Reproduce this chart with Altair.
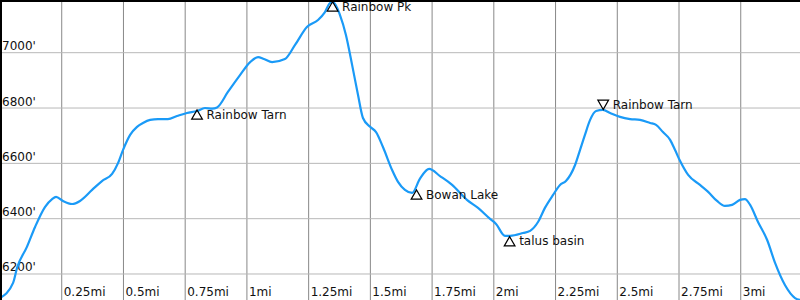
import altair as alt
import pandas as pd

# Trail profile (distance in miles, elevation in feet)
dist_mi = [0.000, 0.053, 0.069, 0.109, 0.142, 0.182, 0.211, 0.227, 0.255, 0.292,
           0.324, 0.373, 0.413, 0.454, 0.478, 0.498, 0.527, 0.555, 0.579, 0.608,
           0.640, 0.680, 0.717, 0.757, 0.798, 0.830, 0.859, 0.879, 0.923, 0.972,
           1.013, 1.045, 1.069, 1.102, 1.154, 1.195, 1.243, 1.288, 1.316, 1.337,
           1.349, 1.377, 1.401, 1.426, 1.450, 1.470, 1.499, 1.523, 1.551, 1.588,
           1.612, 1.640, 1.669, 1.701, 1.738, 1.782, 1.831, 1.891, 1.936,
           1.985, 2.009, 2.045, 2.066, 2.118, 2.147, 2.179, 2.207, 2.240, 2.268,
           2.292, 2.329, 2.349, 2.369, 2.390, 2.414, 2.442, 2.471, 2.511, 2.552,
           2.592, 2.633, 2.657, 2.685, 2.714, 2.734, 2.754, 2.787, 2.835, 2.868,
           2.904, 2.936, 2.965, 2.997, 3.017, 3.038, 3.070, 3.107, 3.139, 3.179,
           3.220, 3.240]
elev_ft = [6113, 6168, 6222, 6298, 6370, 6442, 6471, 6479, 6464, 6453,
           6464, 6504, 6536, 6562, 6601, 6648, 6703, 6732, 6746, 6757,
           6760, 6760, 6771, 6782, 6789, 6800, 6798, 6802, 6858, 6919,
           6966, 6984, 6977, 6966, 6977, 7028, 7093, 7118, 7147, 7180,
           7183, 7136, 7064, 6956, 6847, 6764, 6732, 6713, 6659, 6576,
           6533, 6504, 6493, 6545, 6580, 6554, 6522, 6468, 6439,
           6399, 6381, 6338, 6338, 6348, 6356, 6388, 6439, 6486, 6522,
           6536, 6594, 6648, 6703, 6757, 6789, 6793, 6782, 6768, 6760,
           6757, 6746, 6739, 6713, 6685, 6648, 6609, 6558, 6522, 6497,
           6464, 6446, 6450, 6468, 6471, 6450, 6388, 6323, 6240, 6160,
           6113, 6106]

# Waypoints
wp_names = ["Rainbow Tarn", "Rainbow Pk", "Bowan Lake", "talus basin", "Rainbow Tarn"]
wp_mi = [0.798, 1.347, 1.687, 2.064, 2.443]
wp_ft = [6793, 7184, 6504, 6335, 6795]
wp_dir = ["up", "up", "up", "up", "down"]

# Grid / tick labels
x_ticks = [0.25, 0.5, 0.75, 1.0, 1.25, 1.5, 1.75, 2.0, 2.25, 2.5, 2.75, 3.0]
x_labels = ["0.25mi", "0.5mi", "0.75mi", "1mi", "1.25mi", "1.5mi", "1.75mi",
            "2mi", "2.25mi", "2.5mi", "2.75mi", "3mi"]
y_ticks = [6200, 6400, 6600, 6800, 7000]
y_labels = ["6200'", "6400'", "6600'", "6800'", "7000'"]

X_DOMAIN = [0, 3.240]
Y_DOMAIN = [6106, 7190.5]
FONT = "DejaVu Sans"

xs = alt.Scale(domain=X_DOMAIN, nice=False, zero=False)
ys = alt.Scale(domain=Y_DOMAIN, nice=False, zero=False)

profile = pd.DataFrame({"mi": dist_mi, "ft": elev_ft})
wps = pd.DataFrame({"mi": wp_mi, "ft": wp_ft, "name": wp_names, "dir": wp_dir})
xt = pd.DataFrame({"mi": x_ticks, "label": x_labels})
yt = pd.DataFrame({"ft": y_ticks, "label": y_labels})

vgrid = alt.Chart(xt).mark_rule(color="#888888", strokeWidth=1).encode(
    x=alt.X("mi:Q", scale=xs, axis=None))
hgrid = alt.Chart(yt).mark_rule(color="#b8b8b8", strokeWidth=1).encode(
    y=alt.Y("ft:Q", scale=ys, axis=None))

xlab = alt.Chart(xt).mark_text(align="left", baseline="alphabetic", dx=2,
                               font=FONT, fontSize=12, color="#111").encode(
    x=alt.X("mi:Q", scale=xs, axis=None), y=alt.value(296), text="label:N")
ylab = alt.Chart(yt).mark_text(align="left", baseline="alphabetic", dy=-2.5,
                               font=FONT, fontSize=12, color="#111").encode(
    x=alt.value(2), y=alt.Y("ft:Q", scale=ys, axis=None), text="label:N")

line = alt.Chart(profile).mark_line(color="#1a9af7", strokeWidth=2.2,
                                    interpolate="monotone", clip=True).encode(
    x=alt.X("mi:Q", scale=xs, axis=None), y=alt.Y("ft:Q", scale=ys, axis=None))

up = wps[wps["dir"] == "up"]
down = wps[wps["dir"] == "down"]

tri_up = alt.Chart(up).mark_point(shape="triangle-up", size=115, filled=False,
                                  color="black", strokeWidth=1.2, opacity=1,
                                  yOffset=4.6).encode(
    x=alt.X("mi:Q", scale=xs, axis=None), y=alt.Y("ft:Q", scale=ys, axis=None))
tri_down = alt.Chart(down).mark_point(shape="triangle-down", size=115, filled=False,
                                      color="black", strokeWidth=1.2, opacity=1,
                                      yOffset=-4.6).encode(
    x=alt.X("mi:Q", scale=xs, axis=None), y=alt.Y("ft:Q", scale=ys, axis=None))

lab_up = alt.Chart(up).mark_text(align="left", baseline="middle", dx=9.5, dy=4.8,
                                 font=FONT, fontSize=12, color="#111").encode(
    x=alt.X("mi:Q", scale=xs, axis=None), y=alt.Y("ft:Q", scale=ys, axis=None),
    text="name:N")
lab_down = alt.Chart(down).mark_text(align="left", baseline="middle", dx=9.5, dy=-4.8,
                                     font=FONT, fontSize=12, color="#111").encode(
    x=alt.X("mi:Q", scale=xs, axis=None), y=alt.Y("ft:Q", scale=ys, axis=None),
    text="name:N")

border_left = alt.Chart(xt).mark_rule(color="black", strokeWidth=3).encode(
    x=alt.value(0), y=alt.value(0), y2=alt.value(300))
border_top = alt.Chart(xt).mark_rule(color="black", strokeWidth=3).encode(
    y=alt.value(0), x=alt.value(0), x2=alt.value(800))

chart = alt.layer(vgrid, hgrid, xlab, ylab, line, tri_up, tri_down, lab_up, lab_down,
                  border_left, border_top).properties(
    width=800, height=300, padding=0,
    autosize=alt.AutoSizeParams(type="none"),
).configure_view(stroke=None).configure(background="white")

chart.save("out.html", embed_options={"renderer": "svg", "actions": False})
